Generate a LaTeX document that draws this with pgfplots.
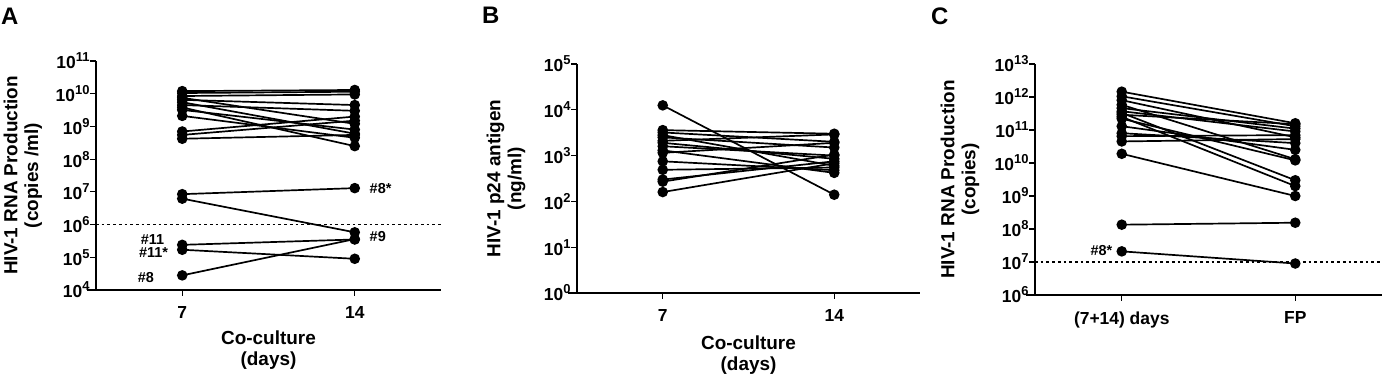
\documentclass[border=0pt]{standalone}
\usepackage{fontspec}
\setmainfont{Liberation Sans}
\usepackage{pgfplots}
\pgfplotsset{compat=1.18}
\newcommand{\E}[1]{10\raisebox{0.40em}{\fontsize{13}{13}\selectfont\bfseries #1}}
\pgfplotsset{
  panel/.style={
    scale only axis, axis lines*=left, axis line style={-, line width=1.9pt},
    tick align=outside, major tick length=6bp, minor tick length=3.5bp,
    tick style={black, line width=1.2pt},
    clip=false,
    tick label style={font=\fontsize{17.5}{19}\selectfont\bfseries},
    yticklabel style={anchor=east, xshift=3bp},
    xticklabel style={anchor=north, yshift=-7bp},
    label style={font=\fontsize{19}{21}\selectfont\bfseries, align=center},
  },
  subj/.style={black, line width=1.7pt, mark=*, mark size=4.4bp, mark options={solid}},
  thr/.style={black, line width=1.3pt, dash pattern=on 2.7bp off 3bp},
}
\begin{document}
\begin{tikzpicture}
\useasboundingbox (0,0) rectangle (1382bp,377bp);
% panel letters
\node[anchor=base west, inner sep=0, font=\fontsize{24}{27}\selectfont\bfseries] at (1bp,352bp) {A};
\node[anchor=base west, inner sep=0, font=\fontsize{24}{27}\selectfont\bfseries] at (482bp,353bp) {B};
\node[anchor=base west, inner sep=0, font=\fontsize{24}{27}\selectfont\bfseries] at (931bp,352bp) {C};

% ---------------- A ----------------
\begin{axis}[ymode=log, log basis y=10, panel, at={(96bp,87bp)}, anchor=south west, width=345bp, height=229bp,
  xmin=3.5, xmax=17.5, ymin=1e4, ymax=1e11,
  xtick={7,14}, xticklabels={7,14},
  ytickten={4,...,11},
  yticklabels={\E{4},\E{5},\E{6},\E{7},\E{8},\E{9},\E{10},\E{11}},
  ylabel={HIV-1 RNA Production\\(copies /ml)},
  ylabel style={at={(axis description cs:-0.212,0.5)}, anchor=center},
  xlabel={Co-culture\\(days)},
  xlabel style={at={(axis description cs:0.5,-0.262)}, anchor=center},
]
\draw[line width=1.9pt] (axis description cs:-0.026,0) -- (axis description cs:0,0);
\addplot[thr] coordinates {(3.5,1e6) (17.5,1e6)};
\addplot[subj] coordinates {(7,1.2e10) (14,1.3e10)};
\addplot[subj] coordinates {(7,1.05e10) (14,1.15e10)};
\addplot[subj] coordinates {(7,8.5e9) (14,9.5e9)};
\addplot[subj] coordinates {(7,7.5e9) (14,1.2e9)};
\addplot[subj] coordinates {(7,6.5e9) (14,4.5e9)};
\addplot[subj] coordinates {(7,5.5e9) (14,6e8)};
\addplot[subj] coordinates {(7,4.5e9) (14,3e9)};
\addplot[subj] coordinates {(7,3.8e9) (14,2.5e8)};
\addplot[subj] coordinates {(7,3.2e9) (14,8e8)};
\addplot[subj] coordinates {(7,2.1e9) (14,4.5e8)};
\addplot[subj] coordinates {(7,7e8) (14,2e9)};
\addplot[subj] coordinates {(7,5.5e8) (14,1.5e9)};
\addplot[subj] coordinates {(7,4.2e8) (14,5.5e8)};
\addplot[subj] coordinates {(7,8.5e6) (14,1.3e7)};
\addplot[subj] coordinates {(7,6.2e6) (14,5.8e5)};
\addplot[subj] coordinates {(7,2.4e5) (14,3.5e5)};
\addplot[subj] coordinates {(7,1.7e5) (14,9e4)};
\addplot[subj] coordinates {(7,2.8e4) (14,3.6e5)};
\begin{scope}[every node/.style={font=\fontsize{14.5}{16}\selectfont\bfseries, inner sep=0}]
\node[anchor=west] at (axis cs:14.6,1.3e7) {\#8*};
\node[anchor=west] at (axis cs:14.6,4.2e5) {\#9};
\node[anchor=east] at (axis cs:6.27,3.4e5) {\#11};
\node[anchor=east] at (axis cs:6.43,1.35e5) {\#11*};
\node[anchor=east] at (axis cs:5.86,2.45e4) {\#8};
\end{scope}
\end{axis}

% ---------------- B ----------------
\begin{axis}[ymode=log, log basis y=10, panel, at={(577bp,84bp)}, anchor=south west, width=343bp, height=229bp,
  xmin=3.5, xmax=17.5, ymin=1, ymax=1e5,
  xtick={7,14}, xticklabels={7,14},
  ytickten={0,...,5},
  yticklabels={\E{0},\E{1},\E{2},\E{3},\E{4},\E{5}},
  ylabel={HIV-1 p24 antigen\\(ng/ml)},
  ylabel style={at={(axis description cs:-0.207,0.5)}, anchor=center},
  xlabel={Co-culture\\(days)},
  xlabel style={at={(axis description cs:0.5,-0.271)}, anchor=center},
]
\draw[line width=1.9pt] (axis description cs:-0.026,0) -- (axis description cs:0,0);
\addplot[subj] coordinates {(7,1.25e4) (14,1.4e2)};
\addplot[subj] coordinates {(7,3.6e3) (14,3e3)};
\addplot[subj] coordinates {(7,3.2e3) (14,2e3)};
\addplot[subj] coordinates {(7,2.8e3) (14,6e2)};
\addplot[subj] coordinates {(7,2.5e3) (14,1.5e3)};
\addplot[subj] coordinates {(7,2.1e3) (14,2.9e3)};
\addplot[subj] coordinates {(7,1.9e3) (14,8.5e2)};
\addplot[subj] coordinates {(7,1.6e3) (14,1e3)};
\addplot[subj] coordinates {(7,1.3e3) (14,4.2e2)};
\addplot[subj] coordinates {(7,1.15e3) (14,1.9e3)};
\addplot[subj] coordinates {(7,7.5e2) (14,4.8e2)};
\addplot[subj] coordinates {(7,4.9e2) (14,5.5e2)};
\addplot[subj] coordinates {(7,3e2) (14,7.5e2)};
\addplot[subj] coordinates {(7,2.7e2) (14,1.05e3)};
\addplot[subj] coordinates {(7,1.6e2) (14,6.8e2)};
\end{axis}

% ---------------- C ----------------
\begin{axis}[ymode=log, log basis y=10, panel, at={(1035bp,82bp)}, anchor=south west, width=347bp, height=231bp,
  xmin=-0.5, xmax=1.5, ymin=1e6, ymax=1e13,
  xtick={0,1}, xticklabels={(7+14) days,FP},
  ytickten={6,...,13},
  yticklabels={\E{6},\E{7},\E{8},\E{9},\E{10},\E{11},\E{12},\E{13}},
  ylabel={HIV-1 RNA Production\\(copies)},
  ylabel style={at={(axis description cs:-0.216,0.5)}, anchor=center},
]
\draw[line width=1.9pt] (axis description cs:-0.026,0) -- (axis description cs:0,0);
\addplot[thr] coordinates {(-0.5,1e7) (1.5,1e7)};
\addplot[subj] coordinates {(0,1.45e12) (1,1.6e11)};
\addplot[subj] coordinates {(0,1.05e12) (1,1.3e11)};
\addplot[subj] coordinates {(0,8e11) (1,6e10)};
\addplot[subj] coordinates {(0,5.8e11) (1,1.3e10)};
\addplot[subj] coordinates {(0,4.6e11) (1,1.1e11)};
\addplot[subj] coordinates {(0,3.7e11) (1,9e10)};
\addplot[subj] coordinates {(0,3.3e11) (1,3e9)};
\addplot[subj] coordinates {(0,2.9e11) (1,1.5e11)};
\addplot[subj] coordinates {(0,2.5e11) (1,2e9)};
\addplot[subj] coordinates {(0,2.2e11) (1,1.2e10)};
\addplot[subj] coordinates {(0,1.3e11) (1,2.5e10)};
\addplot[subj] coordinates {(0,8e10) (1,4e10)};
\addplot[subj] coordinates {(0,6.5e10) (1,7e10)};
\addplot[subj] coordinates {(0,4.5e10) (1,5.3e10)};
\addplot[subj] coordinates {(0,1.9e10) (1,1e9)};
\addplot[subj] coordinates {(0,1.35e8) (1,1.55e8)};
\addplot[subj] coordinates {(0,2.1e7) (1,9e6)};
\node[anchor=east, inner sep=0, font=\fontsize{14.5}{16}\selectfont\bfseries] at (axis cs:-0.053,2.3e7) {\#8*};
\end{axis}
\end{tikzpicture}
\end{document}
